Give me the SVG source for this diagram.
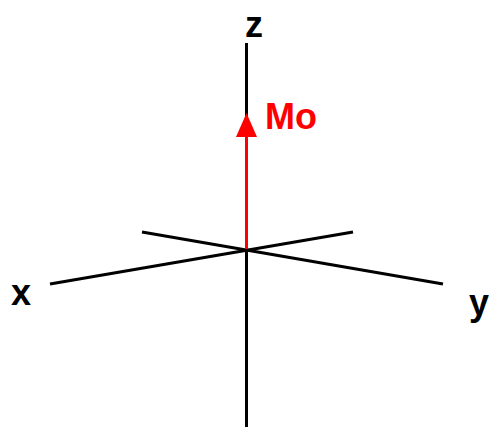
<svg xmlns="http://www.w3.org/2000/svg" width="494" height="430" viewBox="0 0 494 430">
<style>
.ax{stroke:#000;stroke-width:3;fill:none}
.lbl{font-family:"Liberation Sans",Arial,sans-serif;font-weight:bold;font-size:36px;fill:#000}
.red{fill:#f00}
</style>
<rect width="494" height="430" fill="#fff"/>
<g id="axes">
<line class="ax" x1="246.5" y1="43" x2="246.5" y2="427"/>
<line class="ax" x1="50" y1="284" x2="353" y2="232"/>
<line class="ax" x1="142" y1="232" x2="443" y2="284"/>
</g>
<g id="vector">
<line x1="246.5" y1="249" x2="246.5" y2="132" stroke="#f00" stroke-width="3"/>
<polygon class="red" points="246.5,113 236,137 257,137"/>
</g>
<g id="labels">
<text class="lbl" x="245" y="37">z</text>
<text class="lbl" x="11" y="305">x</text>
<text class="lbl" x="469" y="315">y</text>
<text class="lbl red" x="265" y="129" font-size="33">Mo</text>
</g>
</svg>
